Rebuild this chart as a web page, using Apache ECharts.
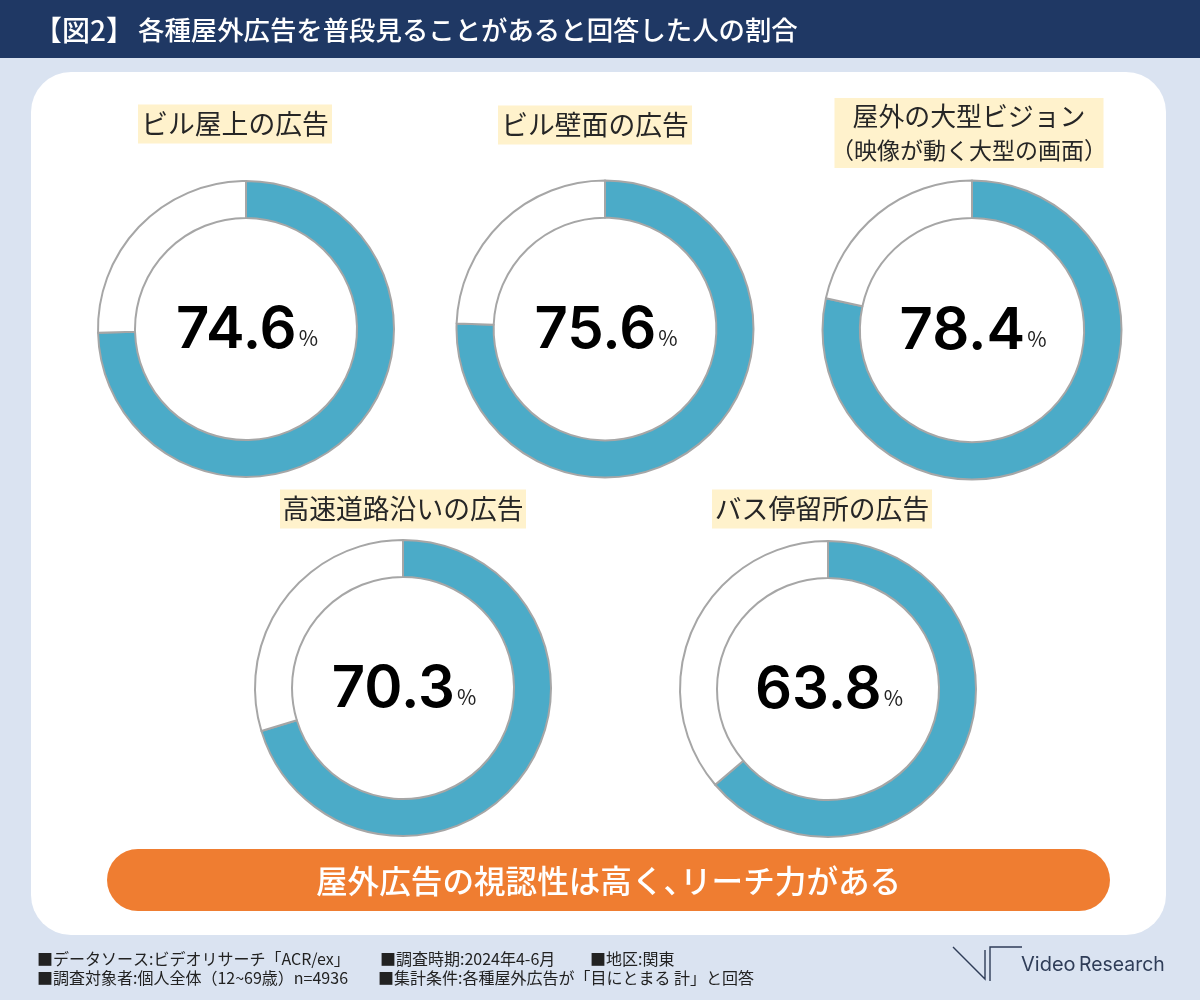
<!DOCTYPE html>
<html>
<head>
<meta charset="utf-8">
<style>
  html, body { margin: 0; padding: 0; background: #dae3f1; }
  #chart { width: 1200px; height: 1000px; }
</style>
<script src="https://cdn.jsdelivr.net/npm/echarts@6/dist/echarts.min.js"></script>
</head>
<body>
<div id="chart"></div>
<script>
const FONT = '"Noto Sans CJK JP", "Noto Sans", sans-serif';

const pieNames = ['ビル屋上の広告', 'ビル壁面の広告', '屋外の大型ビジョン', '高速道路沿いの広告', 'バス停留所の広告'];
const pieValues = [74.6, 75.6, 78.4, 70.3, 63.8];
const pieCenters = [[246, 329], [605, 329], [972, 330], [403, 688], [828, 689]];
const pieRadii = [148, 148.5, 149.5, 148, 148];
const titleParts = ['【図2】', '各種屋外広告を普段見ることがあると回答した人の割合'];
const bannerParts = ['屋外広告の視認性は高く、', 'リーチ力がある'];
const footerRows = [
  ['■データソース:ビデオリサーチ「ACR/ex」', '■調査時期:2024年4-6月', '■地区:関東'],
  ['■調査対象者:個人全体（12~69歳）n=4936', '■集計条件:各種屋外広告が「目にとまる 計」と回答'],
];

const NAVY = '#1f3864';
const TEAL = '#4babc8';
const RIM = '#a6a6a6';
const TAG = '#fff2cc';
const ORANGE = '#ef7d31';
const LOGO = '#2f3d58';

// yellow name tag: box + text, x/y is the centre
function tag(x, y, w, h, lines) {
  const els = [{ type: 'rect', shape: { x: x - w / 2, y: y - h / 2, width: w, height: h },
    style: { fill: TAG } }];
  lines.forEach((l) => els.push({ type: 'text', x, y: l.y,
    style: { text: l.text, fill: '#262626', font: `${l.size}px ${FONT}`, align: 'center', verticalAlign: 'middle' } }));
  return els;
}

function footerText(x, y, text) {
  return { type: 'text', x, y,
    style: { text, fill: '#222', font: `16px ${FONT}`, verticalAlign: 'middle' } };
}

const series = pieValues.map((val, i) => ({
  type: 'pie',
  silent: true,
  center: pieCenters[i],
  radius: [pieRadii[i] * 0.75, pieRadii[i]],
  startAngle: 90,
  clockwise: true,
  label: { show: false },
  labelLine: { show: false },
  itemStyle: { borderColor: RIM, borderWidth: 2 },
  data: [
    { value: val, name: pieNames[i], itemStyle: { color: TEAL },
      label: {
        show: true, position: 'center', offset: [1, 2],
        formatter: () => `{v|${val.toFixed(1)}}{p|%}`,
        rich: {
          v: { fontFamily: 'Inter, ' + FONT, fontSize: 58, fontWeight: 600, color: '#000' },
          p: { fontFamily: FONT, fontSize: 21, color: '#222', padding: [14, 0, 0, 2] },
        },
      } },
    { value: +(100 - val).toFixed(1), itemStyle: { color: '#fff' } },
  ],
}));

const graphics = [
  { type: 'rect', shape: { x: 0, y: 0, width: 1200, height: 58 }, style: { fill: NAVY } },
  { type: 'text', x: 34, y: 30, style: { text: titleParts[0], fill: '#fff',
    font: `500 28px ${FONT}`, verticalAlign: 'middle' } },
  { type: 'text', x: 138, y: 30, style: { text: titleParts[1], fill: '#fff',
    font: `500 26.4px ${FONT}`, verticalAlign: 'middle' } },
  { type: 'rect', shape: { x: 31, y: 72, width: 1135, height: 863, r: 40 }, style: { fill: '#fff' } },
  ...tag(235, 124, 194, 39, [{ text: pieNames[0], y: 124, size: 26.8 }]),
  ...tag(595, 125, 194, 39, [{ text: pieNames[1], y: 125, size: 26.8 }]),
  ...tag(969, 133, 269, 70, [
    { text: pieNames[2], y: 116, size: 25.9 },
    { text: '（映像が動く大型の画面）', y: 150, size: 23 },
  ]),
  ...tag(403, 509, 246, 39, [{ text: pieNames[3], y: 509, size: 26.8 }]),
  ...tag(822, 509, 220, 39, [{ text: pieNames[4], y: 509, size: 26.8 }]),
  { type: 'rect', shape: { x: 107, y: 849, width: 1003, height: 62, r: 31 }, style: { fill: ORANGE } },
  { type: 'text', x: 316, y: 881, style: { text: bannerParts[0], fill: '#fff',
    font: `500 31.6px ${FONT}`, verticalAlign: 'middle' } },
  { type: 'text', x: 680, y: 881, style: { text: bannerParts[1], fill: '#fff',
    font: `500 31.6px ${FONT}`, verticalAlign: 'middle' } },
  footerText(37, 959, footerRows[0][0]),
  footerText(380, 959, footerRows[0][1]),
  footerText(590, 959, footerRows[0][2]),
  footerText(37, 978, footerRows[1][0]),
  footerText(378, 978, footerRows[1][1]),
  // logo mark
  { type: 'polyline', shape: { points: [[953, 947], [985, 979], [985, 950]] },
    style: { stroke: LOGO, lineWidth: 1.4, fill: 'none' } },
  { type: 'polyline', shape: { points: [[990, 981], [990, 947], [1022, 947]] },
    style: { stroke: LOGO, lineWidth: 1.4, fill: 'none' } },
  { type: 'text', x: 1021, y: 965, style: { text: 'Video', fill: LOGO,
    font: `20px Inter, ${FONT}`, verticalAlign: 'middle' } },
  { type: 'text', x: 1079, y: 965, scaleX: 0.97, originX: 0, style: { text: 'Research', fill: LOGO,
    font: `20px Inter, ${FONT}`, verticalAlign: 'middle' } },
];

const chart = echarts.init(document.getElementById('chart'), null, { renderer: 'canvas' });
chart.setOption({
  animation: false,
  backgroundColor: '#dae3f1',
  graphic: { elements: graphics.map((g) => Object.assign({ z: -1 }, g)) },
  series,
});
</script>
</body>
</html>
